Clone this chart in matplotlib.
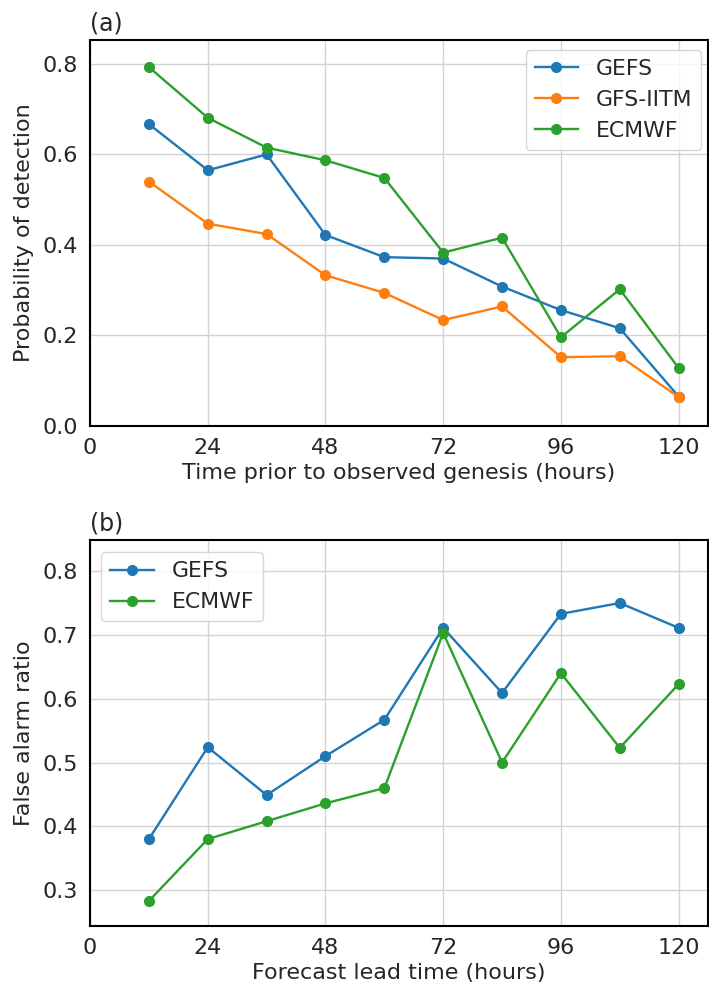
import matplotlib
matplotlib.use("Agg")
import matplotlib.pyplot as plt

# lead times (hours)
hours = [12, 24, 36, 48, 60, 72, 84, 96, 108, 120]

# (a) probability of detection
pod_gefs = [0.667, 0.565, 0.600, 0.422, 0.373, 0.370, 0.308, 0.256, 0.216, 0.065]
pod_gfs_iitm = [0.540, 0.447, 0.424, 0.333, 0.294, 0.234, 0.264, 0.152, 0.154, 0.064]
pod_ecmwf = [0.793, 0.681, 0.615, 0.587, 0.548, 0.383, 0.416, 0.196, 0.302, 0.128]

# (b) false alarm ratio
far_gefs = [0.380, 0.524, 0.449, 0.510, 0.567, 0.711, 0.609, 0.733, 0.750, 0.711]
far_ecmwf = [0.283, 0.380, 0.408, 0.436, 0.460, 0.703, 0.500, 0.640, 0.523, 0.623]

xticks = [0, 24, 48, 72, 96, 120]

plt.rcParams['font.family'] = 'DejaVu Sans'
plt.rcParams['font.size'] = 16

fig = plt.figure(figsize=(7.09, 9.86), dpi=100)
ax1 = fig.add_axes([0.127, 0.568, 0.871, 0.3915])
ax2 = fig.add_axes([0.127, 0.061, 0.871, 0.3915])

TXT = '#262626'


def style_axis(ax):
    ax.grid(True, color='#d3d3d3', linewidth=1)
    ax.set_axisbelow(True)
    for s in ax.spines.values():
        s.set_color('black')
        s.set_linewidth(1.5)
    ax.tick_params(length=0, pad=9, labelsize=16, colors=TXT)
    ax.set_xticks(xticks)
    ax.set_xlim(0, 125.9)


# Panel (a)
ax1.plot(hours, pod_gefs, '-o', color='#1f77b4', lw=1.7, ms=7, label='GEFS')
ax1.plot(hours, pod_gfs_iitm, '-o', color='#ff7f0e', lw=1.7, ms=7, label='GFS-IITM')
ax1.plot(hours, pod_ecmwf, '-o', color='#2ca02c', lw=1.7, ms=7, label='ECMWF')
style_axis(ax1)
ax1.set_ylim(0, 0.853)
ax1.set_yticks([0.0, 0.2, 0.4, 0.6, 0.8])
ax1.set_xlabel('Time prior to observed genesis (hours)', color=TXT, labelpad=3)
ax1.set_ylabel('Probability of detection', color=TXT, labelpad=6)
ax1.set_title('(a)', loc='left', fontsize=17, pad=7, color=TXT)
ax1.legend(loc='upper right', fontsize=15.8, borderaxespad=0.4, labelcolor=TXT,
           bbox_to_anchor=(1.004, 0.996))

# Panel (b)
ax2.plot(hours, far_gefs, '-o', color='#1f77b4', lw=1.7, ms=7, label='GEFS')
ax2.plot(hours, far_ecmwf, '-o', color='#2ca02c', lw=1.7, ms=7, label='ECMWF')
style_axis(ax2)
ax2.set_ylim(0.244, 0.849)
ax2.set_yticks([0.3, 0.4, 0.5, 0.6, 0.7, 0.8])
ax2.set_xlabel('Forecast lead time (hours)', color=TXT, labelpad=3)
ax2.set_ylabel('False alarm ratio', color=TXT, labelpad=6)
ax2.set_title('(b)', loc='left', fontsize=17, pad=7, color=TXT)
ax2.legend(loc='upper left', fontsize=15.8, borderaxespad=0.4, labelcolor=TXT,
           bbox_to_anchor=(0.004, 0.99))

fig.savefig('out.png', dpi=100)
